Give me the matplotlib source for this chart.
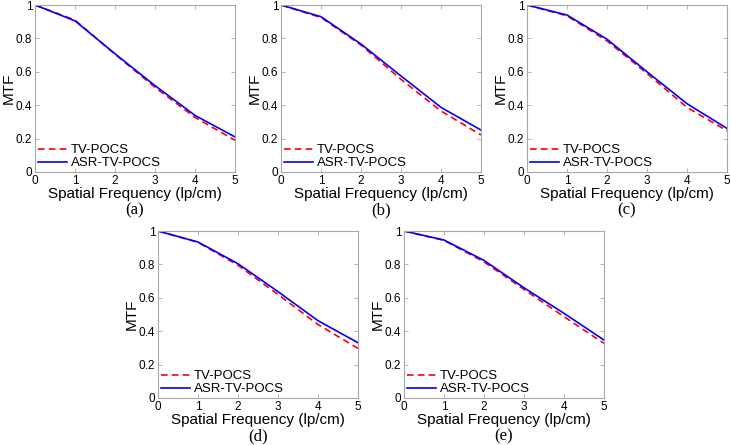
import numpy as np
import matplotlib
matplotlib.use('Agg')
import matplotlib.pyplot as plt

plt.rcParams['font.family'] = ['Liberation Sans', 'DejaVu Sans']

freq = [0, 1, 2, 3, 4, 5]
panels = ['(a)', '(b)', '(c)', '(d)', '(e)']
tv_pocs = [
    [1.0, 0.910, 0.705, 0.507, 0.327, 0.190],
    [1.0, 0.925, 0.760, 0.555, 0.365, 0.222],
    [1.0, 0.935, 0.785, 0.590, 0.387, 0.247],
    [1.0, 0.932, 0.795, 0.620, 0.440, 0.297],
    [1.0, 0.944, 0.815, 0.650, 0.487, 0.327],
]
asr_tv_pocs = [
    [1.0, 0.905, 0.708, 0.517, 0.339, 0.210],
    [1.0, 0.930, 0.766, 0.575, 0.387, 0.251],
    [1.0, 0.940, 0.795, 0.600, 0.409, 0.261],
    [1.0, 0.934, 0.804, 0.637, 0.463, 0.331],
    [1.0, 0.946, 0.824, 0.660, 0.507, 0.347],
]

W, H = 731, 445
fig = plt.figure(figsize=(W / 100, H / 100), dpi=100)

# axes boxes in pixels: left, top, right, bottom
boxes = [(35, 5, 235, 172), (281, 5, 481, 172), (527, 5, 727, 172),
         (158, 231, 358, 398), (404, 231, 604, 398)]
grey = '#a8a8a8'

for k, (l, t, r, b) in enumerate(boxes):
    ax = fig.add_axes([l / W, 1 - b / H, (r - l) / W, (b - t) / H])
    ax.plot(freq, tv_pocs[k], '--', color='#ff0000', lw=1.2, dashes=(4, 2.5), label='TV-POCS')
    ax.plot(freq, asr_tv_pocs[k], '-', color='#0000ff', lw=1.2, label='ASR-TV-POCS')
    ax.set_xlim(0, 5)
    ax.set_ylim(0, 1)
    ax.set_xticks(freq)
    ax.set_yticks([0, 0.2, 0.4, 0.6, 0.8, 1])
    ax.set_yticklabels(['0', '0.2', '0.4', '0.6', '0.8', '1'])
    ax.tick_params(direction='in', length=3, width=0.6, color=grey, labelsize=8.5,
                   top=True, right=True, pad=2)
    for s in ax.spines.values():
        s.set_color(grey)
        s.set_linewidth(0.8)
    ax.set_xlabel('Spatial Frequency (lp/cm)', fontsize=11, labelpad=0)
    ax.set_ylabel('MTF', fontsize=11, labelpad=0)
    ax.legend(loc='lower left', frameon=False, fontsize=9.5, handlelength=2.2,
              handletextpad=0.3, labelspacing=0.05, borderaxespad=0.0,
              borderpad=0.2)
    ax.text(0.5, -0.23, panels[k], transform=ax.transAxes, ha='center', va='center',
            fontsize=12, family='Liberation Serif')

fig.savefig('out.png', dpi=100)
